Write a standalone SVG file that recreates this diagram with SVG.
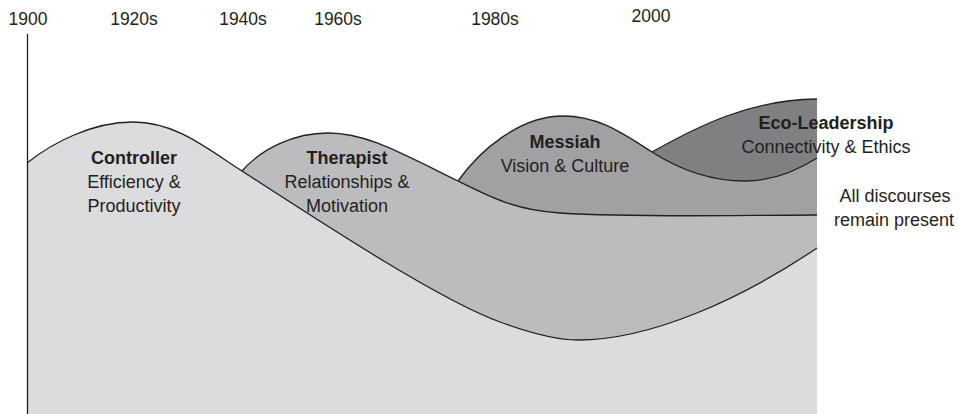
<svg xmlns="http://www.w3.org/2000/svg" width="959" height="414" viewBox="0 0 959 414">
  <style>
    .edge { fill: none; stroke: #231f20; stroke-width: 1.3; stroke-linecap: butt; }
    .yr { font-family: "Liberation Sans", Arial, sans-serif; font-size: 17.5px; fill: #231f20; text-anchor: middle; }
    .ttl { font-family: "Liberation Sans", Arial, sans-serif; font-size: 18px; font-weight: bold; fill: #231f20; text-anchor: middle; }
    .sub { font-family: "Liberation Sans", Arial, sans-serif; font-size: 18px; fill: #231f20; text-anchor: middle; }
  </style>
  <rect width="959" height="414" fill="#ffffff"/>

  <!-- time axis labels -->
  <g id="years">
    <text class="yr" x="28" y="25">1900</text>
    <text class="yr" x="134" y="25">1920s</text>
    <text class="yr" x="243" y="25">1940s</text>
    <text class="yr" x="338" y="25">1960s</text>
    <text class="yr" x="495" y="25">1980s</text>
    <text class="yr" x="651" y="21.5">2000</text>
  </g>

  <!-- discourse bands, painted back to front -->
  <g id="eco-leadership">
    <path d="M652,152 C700,125 750,100 817,99 L817,414 L652,414 Z" fill="#808083"/>
    <path class="edge" d="M652,152 C700,125 750,100 817,99"/>
  </g>

  <g id="messiah">
    <path d="M458,181 C480,150 520,116 563,116 C600,116 625,135 652,152 C680,170 710,181 745,181 C770,181 795,172 817,158 L817,414 L458,414 Z" fill="#a1a1a4"/>
    <path class="edge" d="M458,181 C480,150 520,116 563,116 C600,116 625,135 652,152 C680,170 710,181 745,181 C770,181 795,172 817,158"/>
  </g>

  <g id="therapist">
    <path d="M242,171 C262,148 295,133 328,133 C365,133 395,150 458,181 C490,197 515,210 560,213 C640,218 740,215 817,215 L817,414 L242,414 Z" fill="#bcbcbf"/>
    <path class="edge" d="M242,171 C262,148 295,133 328,133 C365,133 395,150 458,181 C490,197 515,210 560,213 C640,218 740,215 817,215"/>
  </g>

  <g id="controller">
    <path d="M27,163 C52,143 92,122 133,122 C175,122 205,147 242,171 C330,228 440,300 500,322 C530,333 555,340 578,340 C650,340 740,300 817,248 L817,414 L27,414 Z" fill="#dcdcde"/>
    <path class="edge" d="M27,163 C52,143 92,122 133,122 C175,122 205,147 242,171 C330,228 440,300 500,322 C530,333 555,340 578,340 C650,340 740,300 817,248"/>
  </g>

  <!-- vertical time axis -->
  <g id="axis">
    <line x1="27.5" y1="34" x2="27.5" y2="414" stroke="#231f20" stroke-width="1.3"/>
  </g>

  <!-- band labels -->
  <g id="controller-label">
    <text class="ttl" x="134" y="164">Controller</text>
    <text class="sub" x="134" y="188">Efficiency &amp;</text>
    <text class="sub" x="134" y="212">Productivity</text>
  </g>
  <g id="therapist-label">
    <text class="ttl" x="347" y="164">Therapist</text>
    <text class="sub" x="347" y="188">Relationships &amp;</text>
    <text class="sub" x="347" y="212">Motivation</text>
  </g>
  <g id="messiah-label">
    <text class="ttl" x="565" y="148">Messiah</text>
    <text class="sub" x="565" y="172">Vision &amp; Culture</text>
  </g>
  <g id="eco-label">
    <text class="ttl" x="826" y="129">Eco-Leadership</text>
    <text class="sub" x="826" y="153">Connectivity &amp; Ethics</text>
  </g>
  <g id="note">
    <text class="sub" x="895" y="202">All discourses</text>
    <text class="sub" x="894" y="226">remain present</text>
  </g>
</svg>
